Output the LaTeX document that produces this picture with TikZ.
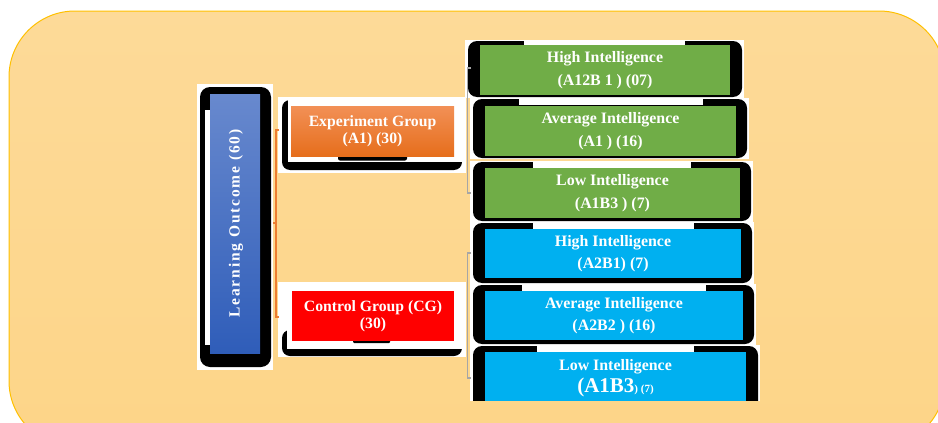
\documentclass[tikz,border=0pt]{standalone}
\usepackage{fontspec}
\setmainfont{Liberation Serif}
\definecolor{bgtop}{HTML}{FDDA98}
\definecolor{bgbot}{HTML}{FDD588}
\definecolor{bgline}{HTML}{FFC000}
\definecolor{igreen}{HTML}{70AD47}
\definecolor{iblue}{HTML}{00B0F0}
\definecolor{ired}{HTML}{FF0000}
\definecolor{otop}{HTML}{F29056}
\definecolor{obot}{HTML}{E66E1C}
\definecolor{btop}{HTML}{6889CE}
\definecolor{bbot}{HTML}{2F5DB9}
\definecolor{lgray}{HTML}{A6A6A6}
\definecolor{oline}{HTML}{ED7D31}
\newcommand\myshadow[6]{%
  \fill[white] (#1-3,#2-1) rectangle (#3+2,#4+1);
  \fill[black,rounded corners=9pt] (#1,#2) rectangle (#3,#4);
  \fill[white] (#5,#2-1) rectangle (#6,#2+6);
}
\tikzset{
  cbox/.style={rectangle, inner sep=0pt, outer sep=0pt, text=white, align=center,
    font=\bfseries\fontsize{15.9}{22.5}\selectfont},
  gbox/.style={rectangle, inner sep=0pt, outer sep=0pt, text=white, align=center,
    font=\bfseries\fontsize{15.7}{17}\selectfont},
  oconn/.style={draw=oline, line width=1.5pt},
  gconn/.style={draw=lgray, line width=1.5pt},
}
\begin{document}
\begin{tikzpicture}[x=1pt,y=-1pt]
\useasboundingbox (0,0) rectangle (938,423);
% background panel
\draw[draw=bgline, line width=1pt, top color=bgtop, bottom color=bgbot, rounded corners=66pt]
  (9,11) rectangle (945,447);

% Learning outcome
\fill[white] (197,84) rectangle (273,370);
\fill[black,rounded corners=10pt] (200,87) rectangle (271,367);
\fill[white] (205,110) rectangle (210,345);
\node[rectangle, inner sep=0pt, outer sep=0pt, minimum width=50pt, minimum height=259pt,
  top color=btop, bottom color=bbot] (lo) at (235,223.5) {};
\node[rotate=90, text=white, font=\bfseries\fontsize{15.5}{18}\selectfont\addfontfeature{LetterSpace=12}] (lot) at (236,223.5) {Learning Outcome (60)};

% Experiment group
\fill[white] (278,97) rectangle (466,173);
\fill[black,rounded corners=8pt] (282,100) rectangle (462,170);
\fill[white] (288,97) rectangle (466,162);
\fill[black,rounded corners=2pt] (338,154) rectangle (407,160.5);
\node[gbox, minimum width=163pt, minimum height=50pt, top color=otop, bottom color=obot]
  (eg) at (372.5,131) {Experiment Group\\(A1) (30)};

% Control group
\fill[white] (278,282) rectangle (466,357);
\fill[black,rounded corners=8pt] (282,330) rectangle (462,356);
\fill[white] (287,282) rectangle (466,348.5);
\fill[black,rounded corners=1pt] (353,339) rectangle (390,343);
\node[gbox, minimum width=162pt, minimum height=50pt, fill=ired]
  (cg) at (373,316) {Control Group (CG)\\(30)};

% right boxes
\myshadow{468}{41}{742}{97}{524}{685}
\node[cbox, minimum width=250pt, minimum height=50pt, fill=igreen] (g1) at (605,70)
  {High Intelligence\\(A12B 1 ) (07)};
\myshadow{473}{99}{747}{158}{519}{703}
\node[cbox, minimum width=251pt, minimum height=50pt, fill=igreen] (g2) at (610.5,131)
  {Average Intelligence\\(A1 ) (16)};
\myshadow{473}{162}{751}{221}{533}{691}
\node[cbox, minimum width=255pt, minimum height=50pt, fill=igreen] (g3) at (612.5,193)
  {Low Intelligence\\(A1B3 ) (7)};
\myshadow{473}{223}{752}{283}{533}{694}
\node[cbox, minimum width=256pt, minimum height=49pt, fill=iblue] (b1) at (613,253.5)
  {High Intelligence\\(A2B1) (7)};
\myshadow{473}{285}{754}{344}{522}{706}
\node[cbox, minimum width=258pt, minimum height=49pt, fill=iblue] (b2) at (614,315.5)
  {Average Intelligence\\(A2B2 ) (16)};
\begin{scope}
\clip (0,0) rectangle (938,400);
\myshadow{473}{346}{758}{410}{537}{694}
\node[cbox, minimum width=261pt, minimum height=60pt, fill=iblue] (b3) at (615.5,382) {};
\end{scope}
\node[cbox] (b3t) at (615.5,378)
  {Low Intelligence\\{\fontsize{21}{22}\selectfont (A1B3}{\fontsize{11}{12}\selectfont ) (7)}};

% connectors
\coordinate (ot) at (279,130);
\coordinate (ob) at (279,317);
\coordinate (om) at (273,223);
\draw[oconn] (ot) -| (276,317) -- (ob);
\draw[oconn] (om) -- (276,223);
\coordinate (e1) at (471,68);
\coordinate (e2) at (471,193);
\draw[gconn] (e1) -- (467.5,68) -- (467.5,193) -- (e2);
\coordinate (c1) at (471,253);
\coordinate (c2) at (471,378);
\draw[gconn] (c1) -- (467.5,253) -- (467.5,378) -- (c2);
\end{tikzpicture}
\end{document}
